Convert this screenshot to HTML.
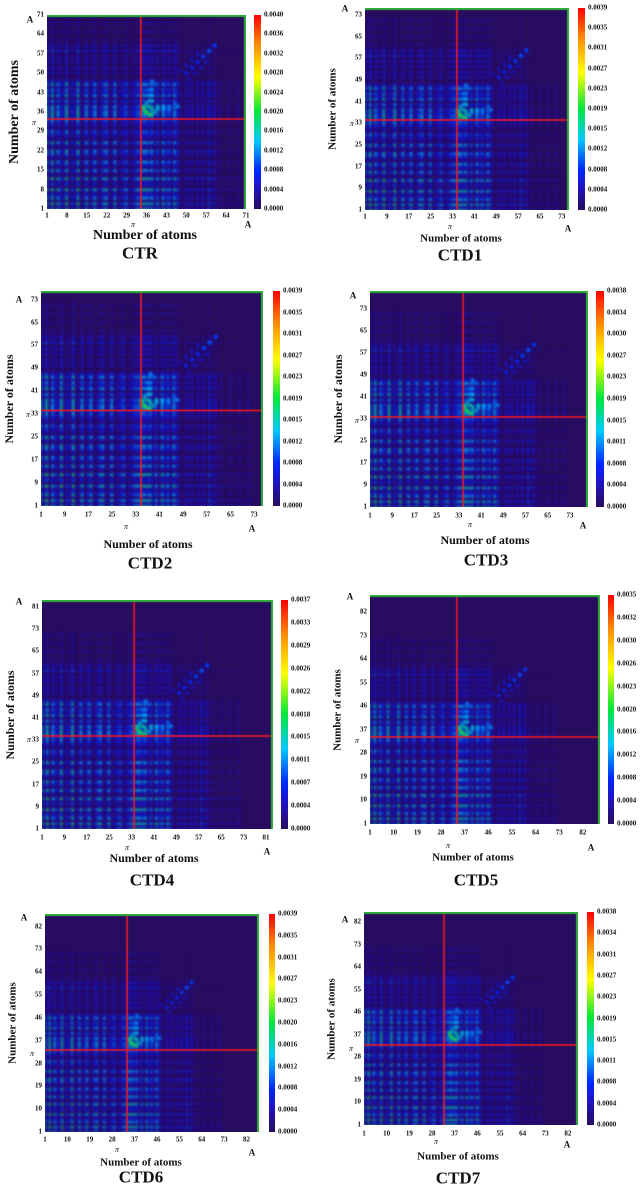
<!DOCTYPE html>
<html><head><meta charset="utf-8">
<style>
html,body{margin:0;padding:0;background:#fff;}
body{width:642px;height:1183px;position:relative;overflow:hidden;font-family:"Liberation Serif",serif;}
.t{position:absolute;font-weight:bold;color:#111;white-space:nowrap;line-height:1;}
canvas{position:absolute;}
</style></head>
<body>
<script>
// ---- data ----
const panelNames = ["CTR","CTD1","CTD2","CTD3","CTD4","CTD5","CTD6","CTD7"];
const atomCounts = [71,75.6,76,79.5,83.5,88.5,87,86];
const atomActivity = [7,3,7,2,6,4,3,7,2,4,3,7,2,3,6,2,4,6,2,3,5,6,2,3,6,2,3,4,5,2,3,4,5,5,6,6,5,6,3,5,2,6,4,5,3,6,4,
  2,1,3,2,3,1,3,2,3,1,4,2,3,
  1,2,1,1,2,1,1,2,1,1,2,1,
  0,0,0,0,0,0,0,0,0,0,0,0,0,0,0,0,0];
const spotX = [36,37,38,35,36,38,40,42,44,47,37,38,39,50,52,54,56,58,60,51,53,55,57];
const spotY = [36,35,37,38,39,40,37,38,37,38,42,44,46,50,52,54,56,58,60,48,50,52,54];
const spotV = [0.5,0.55,0.45,0.45,0.4,0.4,0.36,0.34,0.3,0.32,0.32,0.3,0.28,0.16,0.18,0.2,0.22,0.24,0.22,0.13,0.14,0.15,0.16];
const tickLabelsCTR = [1,8,15,22,29,36,43,50,57,64,71];
const tickLabelsCTD13 = [1,9,17,25,33,41,49,57,65,73];
const tickLabelsCTD4 = [1,9,17,25,33,41,49,57,65,73,81];
const tickLabelsCTD57 = [1,10,19,28,37,46,55,64,73,82];
const panelTicks = [tickLabelsCTR,tickLabelsCTD13,tickLabelsCTD13,tickLabelsCTD13,tickLabelsCTD4,tickLabelsCTD57,tickLabelsCTD57,tickLabelsCTD57];
const cbCTR = ["0.0040","0.0036","0.0032","0.0028","0.0024","0.0020","0.0016","0.0012","0.0008","0.0004","0.0000"];
const cbCTD1 = ["0.0039","0.0035","0.0031","0.0027","0.0023","0.0019","0.0015","0.0012","0.0008","0.0004","0.0000"];
const cbCTD3 = ["0.0038","0.0034","0.0030","0.0027","0.0023","0.0019","0.0015","0.0011","0.0008","0.0004","0.0000"];
const cbCTD4 = ["0.0037","0.0033","0.0029","0.0026","0.0022","0.0018","0.0015","0.0011","0.0007","0.0004","0.0000"];
const cbCTD5 = ["0.0035","0.0032","0.0030","0.0026","0.0023","0.0020","0.0016","0.0012","0.0008","0.0004","0.0000"];
const cbCTD6 = ["0.0039","0.0035","0.0031","0.0027","0.0023","0.0020","0.0016","0.0012","0.0008","0.0004","0.0000"];
const cbCTD7 = ["0.0038","0.0034","0.0031","0.0027","0.0023","0.0019","0.0015","0.0011","0.0008","0.0004","0.0000"];
const panelColorbars = [cbCTR,cbCTD1,cbCTD1,cbCTD3,cbCTD4,cbCTD5,cbCTD6,cbCTD7];
const verticalMarker = [34,34.6,34.8,34.5,33.9,34.1,34,32.8];
const horizontalMarker = [33.5,34.2,34.3,33.7,34.5,34.2,33.3,32.9];

// ---- layout (not data) ----
const L = [
 {l:47,r:246,t:15,b:209,cb:254,cbw:7,tickY:216,pi:[133,225],A:[248,225],xt:[145,236],xs:14,ti:[140,253],yt:14,ax:[30,20]},
 {l:365,r:569,t:8,b:210,cb:578,cbw:7,tickY:217,pi:[450,227],A:[568,229],xt:[461,239],xs:11,ti:[460,255],yt:11,ax:[345,9]},
 {l:41,r:263,t:291,b:506,cb:273,cbw:7,tickY:515,pi:[126,527],A:[252,529],xt:[148,544],xs:12,ti:[150,563],yt:12,ax:[19,300]},
 {l:370,r:588,t:291,b:507,cb:596,cbw:8,tickY:516,pi:[470,525],A:[583,526],xt:[485,540],xs:12,ti:[486,560],yt:12,ax:[353,296]},
 {l:42,r:273,t:600,b:829,cb:281,cbw:7,tickY:838,pi:[127,848],A:[267,852],xt:[154,858],xs:12,ti:[152,880],yt:12,ax:[19,602]},
 {l:370,r:600,t:595,b:824,cb:608,cbw:6,tickY:833,pi:[448,846],A:[591,848],xt:[473,858],xs:11,ti:[476,880],yt:11,ax:[350,597]},
 {l:45,r:259,t:914,b:1132,cb:269,cbw:6,tickY:1140,pi:[117,1150],A:[252,1153],xt:[141,1163],xs:11,ti:[141,1177],yt:11,ax:[24,918]},
 {l:364,r:578,t:912,b:1125,cb:587,cbw:7,tickY:1134,pi:[436,1142],A:[567,1145],xt:[458,1157],xs:11,ti:[458,1178],yt:11,ax:[345,920]}
];

const stops=[[0,[40,12,95]],[0.12,[30,20,200]],[0.2,[0,40,255]],[0.35,[0,200,255]],[0.5,[0,230,60]],[0.68,[255,255,0]],[0.85,[255,140,0]],[1,[255,0,0]]];
function cmap(v){v=Math.max(0,Math.min(1,v));for(let k=1;k<stops.length;k++){if(v<=stops[k][0]){const a=stops[k-1],b=stops[k];const f=(v-a[0])/(b[0]-a[0]);return 'rgb('+a[1].map((c,i)=>Math.round(c+(b[1][i]-c)*f)).join(',')+')';}}return 'rgb(255,0,0)';}
function txt(s,x,y,size,anchor){const d=document.createElement('div');d.className='t';d.textContent=s;d.style.fontSize=size+'px';d.style.left=x+'px';d.style.top=y+'px';
 d.style.transform=anchor==='c'?'translate(-50%,-50%)':anchor==='r'?'translate(-100%,-50%)':'translate(0,-50%)';document.body.appendChild(d);return d;}

panelNames.forEach((name,p)=>{
 const g=L[p], N=atomCounts[p], W=g.r-g.l, H=g.b-g.t;
 const xs=a=>(a-1)/(N-1)*W, ys=a=>H-(a-1)/(N-1)*H;
 const cv=document.createElement('canvas');cv.width=W;cv.height=H;cv.style.left=g.l+'px';cv.style.top=g.t+'px';
 
 
 document.body.appendChild(cv);
 const c=cv.getContext('2d');c.fillStyle=cmap(0);c.fillRect(0,0,W,H);
 const cell=W/(N-1);
 c.filter='blur(0.8px)';
 const n=Math.floor(N);
 for(let i=1;i<=n;i++)for(let j=1;j<=n;j++){
  const ai=atomActivity[i-1]||0, aj=atomActivity[j-1]||0;
  const v=0.62*Math.pow(ai*aj/49,1.4)*0.85;
  if(v<0.03)continue;
  c.fillStyle=cmap(v);
  c.beginPath();c.arc(xs(i),ys(j),cell*0.55,0,Math.PI*2);c.fill();
 }
 spotX.forEach((sx,k)=>{
  c.fillStyle=cmap(spotV[k]);
  c.beginPath();c.arc(xs(sx),ys(spotY[k]),cell*0.6,0,Math.PI*2);c.fill();
  c.beginPath();c.arc(xs(spotY[k]),ys(sx),cell*0.6,0,Math.PI*2);c.fill();
 });
 c.filter='none';
 c.strokeStyle='#ff1a1a';c.lineWidth=1.5;
 c.beginPath();c.moveTo(xs(verticalMarker[p]),0);c.lineTo(xs(verticalMarker[p]),H);c.stroke();
 c.beginPath();c.moveTo(0,ys(horizontalMarker[p]));c.lineTo(W,ys(horizontalMarker[p]));c.stroke();
 c.strokeStyle='#2fae3a';c.lineWidth=2;
 c.beginPath();c.moveTo(0,1);c.lineTo(W-1,1);c.lineTo(W-1,H);c.stroke();
 panelTicks[p].forEach(v=>{
  const tx=txt(String(v),g.l+xs(v),g.tickY,7,'c');
  
  
  const ty=txt(String(v),g.l-3,g.t+ys(v),7,'r');
  
  
 });
 const cb=document.createElement('div');
 
 
 cb.style.cssText='position:absolute;left:'+g.cb+'px;top:'+g.t+'px;width:'+g.cbw+'px;height:'+H+'px;background:linear-gradient(to top,'+stops.map(s=>cmap(s[0])+' '+(s[0]*100)+'%').join(',')+')';
 document.body.appendChild(cb);
 const labs=panelColorbars[p];
 labs.forEach((s,k)=>{const t=txt(s,g.cb+g.cbw+3,g.t+k*H/(labs.length-1),7,'l');
  
  });
 const a1=txt('π',g.pi[0],g.pi[1],8,'c');a1.style.fontStyle='italic';a1.style.fontWeight='normal';
 
 
 const a2=txt('A',g.A[0],g.A[1],9,'c');
 
 
 const a3=txt('A',g.ax[0],g.ax[1],9,'c');
 
 
 const a4=txt('π',g.l-13,g.t+ys(horizontalMarker[p])+4,8,'c');a4.style.fontStyle='italic';a4.style.fontWeight='normal';
 
 
 const xt=txt('Number of atoms',g.xt[0],g.xt[1],g.xs,'c');
 
 
 const yt=txt('Number of atoms',g.l-32,(g.t+g.b)/2,g.yt,'c');
 yt.style.transform='translate(-50%,-50%) rotate(-90deg)';
 
 
 const ti=txt(name,g.ti[0],g.ti[1],17,'c');
 
 
});
</script>
</body></html>
